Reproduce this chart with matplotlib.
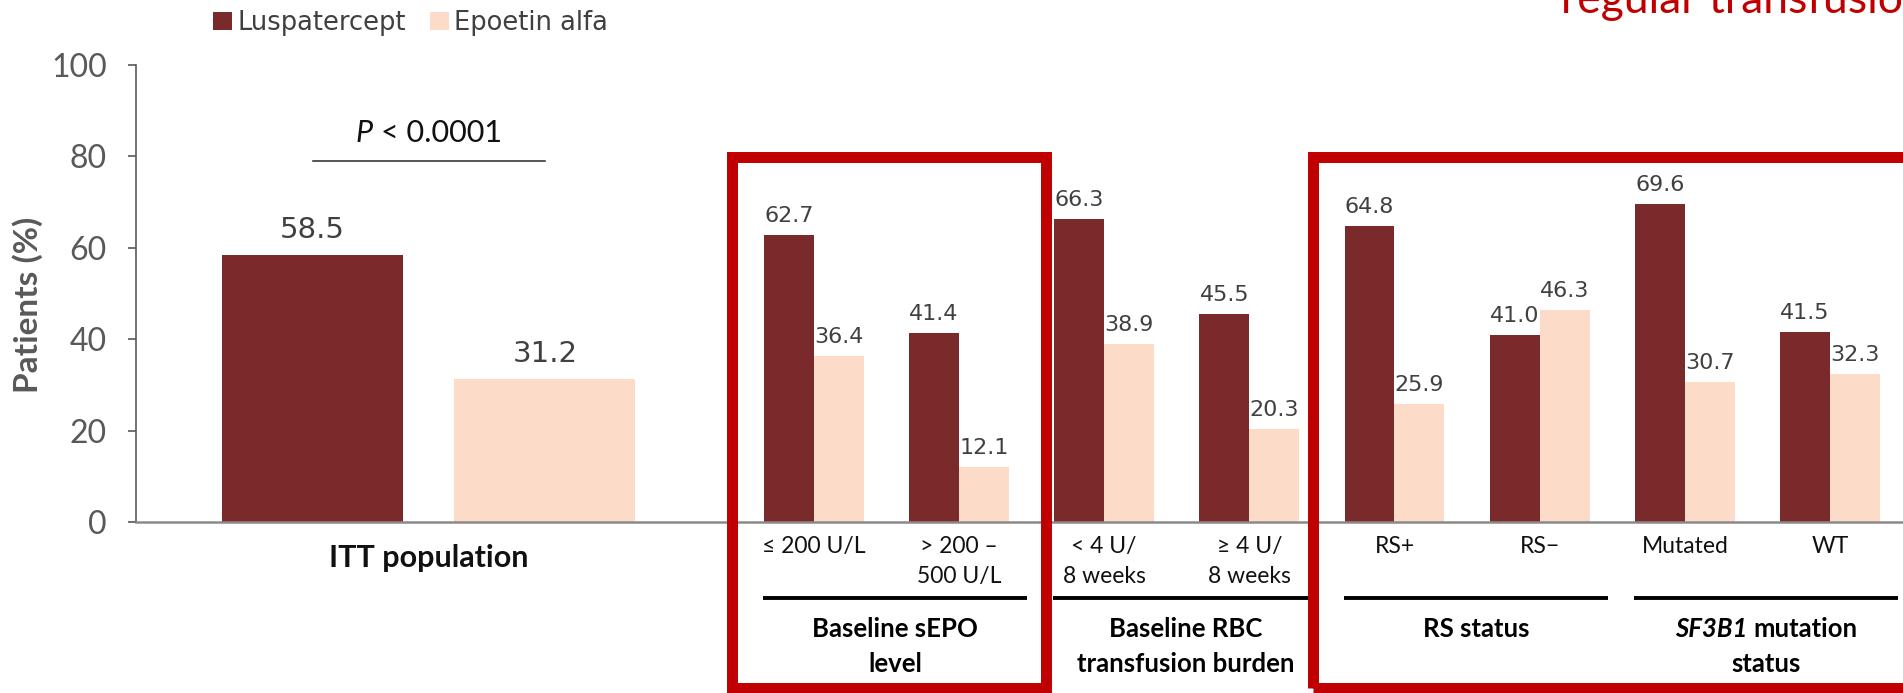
import numpy as np
import matplotlib.pyplot as plt
from matplotlib.patches import Rectangle

plt.rcParams['font.family'] = ['Lato', 'DejaVu Sans']

series = ["Luspatercept", "Epoetin alfa"]
itt_label = "ITT population"
itt_values = [58.5, 31.2]
subgroup_labels = ["≤ 200 U/L", "> 200 –\n500 U/L", "< 4 U/\n8 weeks", "≥ 4 U/\n8 weeks",
                   "RS+", "RS−", "Mutated", "WT"]
lusp_values = [62.7, 41.4, 66.3, 45.5, 64.8, 41.0, 69.6, 41.5]
epo_values = [36.4, 12.1, 38.9, 20.3, 25.9, 46.3, 30.7, 32.3]
group_titles = [("", "Baseline sEPO", "level"),
                ("", "Baseline RBC", "transfusion burden"),
                ("", "RS status", ""),
                ("SF3B1", "mutation", "status")]
boxed_groups = [(0, 1), (4, 8)]
p_label = ("P", "< 0.0001")
yticks = [0, 20, 40, 60, 80, 100]

LUSP = '#7B2A2B'
EPO = '#FCDCC9'
RED = '#C00000'
GREY = '#595959'
NUM = '#404040'
INK = '#111111'

W, H = 1903, 693
fig = plt.figure(figsize=(W / 100, H / 100), dpi=100)
ax = fig.add_axes([136 / W, 1 - 522 / H, 1 - 136 / W, (522 - 65) / H])
ax.set_xlim(-4.667, 7.502)
ax.set_ylim(0, 100)

# subgroup bars sit at integer positions, ITT pair further left and wider
bw = 0.344
x = np.arange(len(subgroup_labels))
b1 = ax.bar(x - bw / 2, lusp_values, bw, color=LUSP, label=series[0])
b2 = ax.bar(x + bw / 2, epo_values, bw, color=EPO, label=series[1])

itt_c, itt_off, itt_w = -2.651, 0.80, 1.247
itt_x = [itt_c - itt_off, itt_c + itt_off]
ax.bar(itt_x, itt_values, itt_w, color=[LUSP, EPO])

for xs, vals in [(x - bw / 2, lusp_values), (x + bw / 2, epo_values)]:
    for xi, v in zip(xs, vals):
        ax.annotate(f"{v:.1f}", (xi, v), xytext=(0, 9.4), textcoords='offset points',
                    ha='center', va='baseline', fontsize=16, family='DejaVu Sans', color=NUM)
for xi, v in zip(itt_x, itt_values):
    ax.annotate(f"{v:.1f}", (xi, v), xytext=(0, 12.2), textcoords='offset points',
                ha='center', va='baseline', fontsize=21, family='DejaVu Sans', color=NUM)

# axes styling
for s in ['top', 'right']:
    ax.spines[s].set_visible(False)
ax.spines['left'].set_color(GREY)
ax.spines['left'].set_linewidth(1.2)
ax.spines['bottom'].set_color('#8a8a8a')
ax.spines['bottom'].set_linewidth(1.8)
ax.set_xticks([])
ax.set_yticks(yticks)
ax.tick_params(axis='y', length=6, width=1.2, color=GREY, pad=15,
               labelsize=23, labelcolor=GREY)

fig.text(28 / W, 1 - 305 / H, "Patients (%)", rotation=90, ha='center', va='center',
         fontsize=24, fontweight='bold', color=GREY)

renderer = fig.canvas.get_renderer()
px_per_unit = ax.bbox.width / (ax.get_xlim()[1] - ax.get_xlim()[0])


def mixed_text(xc, y, first, second, size, color, first_kw, second_kw):
    # two pieces on one baseline, centred together on xc
    t1 = ax.text(xc, y, first, fontsize=size, color=color, ha='left', va='baseline', **first_kw)
    t2 = ax.text(xc, y, second, fontsize=size, color=color, ha='left', va='baseline', **second_kw)
    w1 = t1.get_window_extent(renderer).width if first else 0
    w2 = t2.get_window_extent(renderer).width
    gap = 0.25 * size * 100 / 72 if first else 0
    start = xc - (w1 + gap + w2) / 2 / px_per_unit
    t1.set_x(start)
    t2.set_x(start + (w1 + gap) / px_per_unit)


# P value with bracket line
mixed_text(itt_c, 83.15, p_label[0], p_label[1], 22, INK,
           {'fontstyle': 'italic'}, {})
ax.plot(itt_x, [79.0, 79.0], color='#262626', lw=1.1, clip_on=False)

# category labels under the axis
ax.text(itt_c, -9.85, itt_label, ha='center', va='baseline', fontsize=22,
        fontweight='bold', color=INK)
for xi, lab in zip(x, subgroup_labels):
    for k, line in enumerate(lab.split("\n")):
        ax.text(xi, -6.78 - k * 6.57, line, ha='center', va='baseline',
                fontsize=16.5, color=INK)

for g, (ital, line1, line2) in enumerate(group_titles):
    gc = 2 * g + 0.5 + 0.06
    ax.plot([gc - 0.909, gc + 0.909], [-16.63, -16.63], color='black', lw=2.8,
            clip_on=False, solid_capstyle='butt')
    mixed_text(gc, -25.16, ital, line1, 18.5, 'black',
               {'fontweight': 'bold', 'fontstyle': 'italic'}, {'fontweight': 'bold'})
    if line2:
        ax.text(gc, -32.82, line2, ha='center', va='baseline', fontsize=18.5,
                fontweight='bold', color='black')

# red highlight frames around subgroup blocks
for first, last in boxed_groups:
    x0 = first - 0.56
    x1 = last + 0.6
    ax.add_patch(Rectangle((x0, -36.3), x1 - x0, 79.76 + 36.3, fill=False,
                           edgecolor=RED, lw=7.9, clip_on=False, joinstyle='miter', zorder=5))

leg = fig.legend(handles=[b1, b2], labels=series, loc='upper left',
                 bbox_to_anchor=(213 / W, 1 - 10 / H), frameon=False, ncol=2,
                 prop={'family': 'DejaVu Sans', 'size': 18.5},
                 handlelength=0.74, handleheight=0.74, handletextpad=0.2,
                 columnspacing=0.93, borderpad=0, borderaxespad=0)
for t in leg.get_texts():
    t.set_color(NUM)

fig.text(1561 / W, 1 - 13 / H, "regular transfusions", ha='left', va='baseline',
         fontsize=32, color=RED)

fig.savefig('out.png', dpi=100)
